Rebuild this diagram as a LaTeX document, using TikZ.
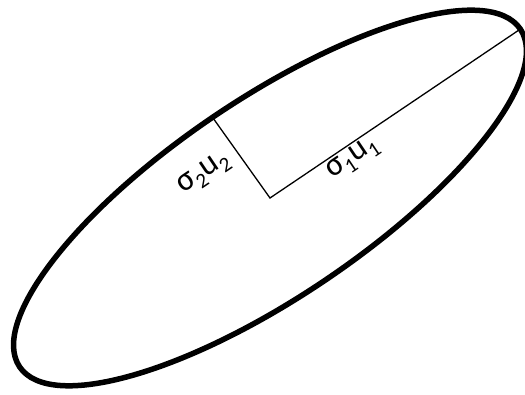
\documentclass[tikz,border=0pt]{standalone}
\usepackage{fontspec}
\setmainfont{Carlito}
\newcommand{\lbl}[2]{#1\raisebox{-0.22em}{\fontsize{21}{21}\selectfont #2}}
\begin{document}
\begin{tikzpicture}[x=1pt,y=-1pt,
  axisline/.style={line width=1.3pt},
  rim/.style={line width=5.5pt},
  lab/.style={font=\fontsize{33}{33}\selectfont, inner sep=0pt, rotate=34}]
\useasboundingbox (0,0) rectangle (525,395);
\coordinate (c) at (270,198);
\coordinate (e1) at (519,30);
\coordinate (e2) at (213,118);
\draw[rim, rotate around={34:(c)}] (c) ellipse [x radius=302, y radius=99];
\draw[axisline] (e2) -- (c) -- (e1);
\node[lab] (l1) at (353,159) {\lbl{σ}{1}\lbl{u}{1}};
\node[lab] (l2) at (204,174) {\lbl{σ}{2}\lbl{u}{2}};
\end{tikzpicture}
\end{document}
